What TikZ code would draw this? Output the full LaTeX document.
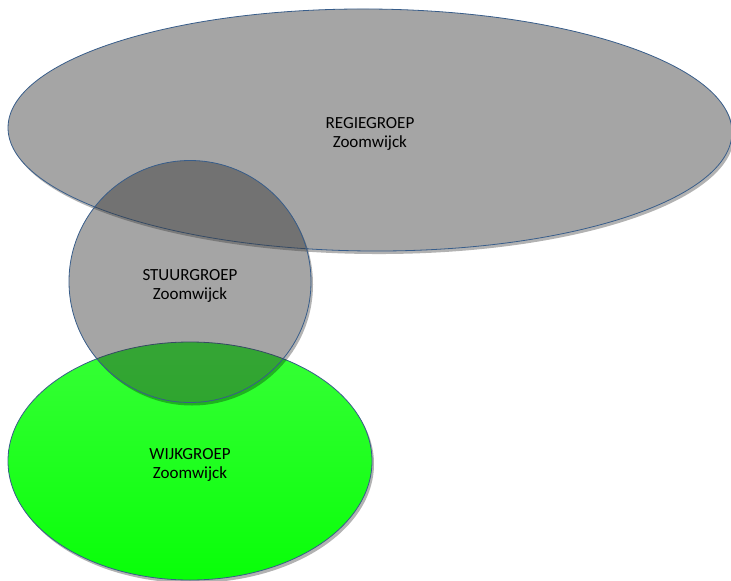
\documentclass[tikz,border=0pt]{standalone}
\usepackage{fontspec}
\setmainfont{Carlito}
\usepackage{xcolor}
\usetikzlibrary{shapes.geometric}
\usetikzlibrary{shadows}

\definecolor{rim}{RGB}{56,93,138}
\definecolor{grijs}{RGB}{165,165,165}
\definecolor{donker}{RGB}{52,52,52}
\definecolor{groenboven}{RGB}{55,255,55}
\definecolor{groenonder}{RGB}{8,255,8}

\tikzset{
	groep/.style={ellipse, draw=rim, line width=0.8pt, align=center, inner sep=0pt,
		text height=38pt, font=\fontsize{17}{19}\selectfont},
	schaduw/.style={drop shadow={shadow xshift=2pt, shadow yshift=-3pt, fill=black, opacity=.3}},
}

\begin{document}
\begin{tikzpicture}[x=1pt, y=-1pt]
\useasboundingbox (0,0) rectangle (731,581);

\node[groep, schaduw, fill=grijs, minimum width=724pt, minimum height=242pt, rotate=-0.4]
	(regie) at (370,130) {REGIEGROEP\\Zoomwijck};

\node[groep, schaduw, top color=groenboven, bottom color=groenonder,
	minimum width=364pt, minimum height=238pt] (wijk) at (190,461) {WIJKGROEP\\Zoomwijck};

% schaduw van de stuurgroep alleen buiten de cirkel
\begin{scope}[even odd rule]
\clip (-5,-5) rectangle (736,586) (190,281.5) circle[radius=121];
\fill[black, opacity=.3] (192,284.5) circle[radius=121];
\end{scope}

\node[groep, fill=donker, fill opacity=.444, text opacity=1,
	minimum width=242pt, minimum height=242pt] (stuur) at (190,281.5) {STUURGROEP\\Zoomwijck};

\end{tikzpicture}
\end{document}
